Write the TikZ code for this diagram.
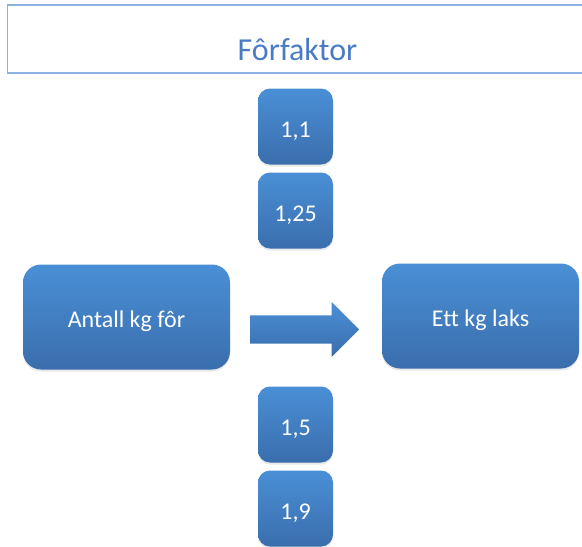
\documentclass[tikz,border=0pt]{standalone}
\usepackage{fontspec}
\setmainfont{Carlito}[Ligatures=NoCommon]
\usetikzlibrary{shapes.arrows,shadows}
\definecolor{boxtop}{HTML}{4A8FD6}
\definecolor{boxbot}{HTML}{3A6EAD}
\definecolor{titleblue}{HTML}{4A7CC4}
\definecolor{frameblue}{HTML}{8DB2E2}
\begin{document}
\begin{tikzpicture}[x=1pt,y=-1pt,
    blok/.style={draw=none, rounded corners=#1, top color=boxtop, bottom color=boxbot,
        text=white, font=\fontsize{24}{28}\selectfont, inner sep=0pt,
        text height=21pt, text depth=0pt,
        drop shadow={opacity=0.18, shadow xshift=0pt, shadow yshift=-2pt}},
    faktor/.style={blok=12pt, minimum width=75pt, minimum height=76pt},
    stor/.style={blok=18pt, minimum height=105pt}]
    \useasboundingbox (0,0) rectangle (582,547);
    % overskrift, rammen er aapen mot hoyre
    \draw [frameblue, line width=1.2pt] (582,5) -- (7.5,5) -- (7.5,73) -- (582,73);
    \node (tittel) [anchor=base, text=titleblue, font=\fontsize{32}{38}\selectfont] at (297.5,60) {Fôrfaktor};
    % faktorene
    \node (f1) [faktor] at (295.5,126.5) {1,1};
    \node (f2) [faktor] at (295.5,210.5) {1,25};
    \node (f3) [faktor] at (295.5,424.5) {1,5};
    \node (f4) [faktor] at (295.5,508.5) {1,9};
    % for -> laks
    \node (for) [stor, minimum width=207pt] at (126.5,317) {Antall kg fôr};
    \node (laks) [stor, minimum width=197pt] at (480.5,316) {Ett kg laks};
    \node (pil) [single arrow, draw=none, top color=boxtop, bottom color=boxbot,
        minimum height=109pt, single arrow head extend=13.5pt,
        inner xsep=0pt, inner ysep=14pt, anchor=tail] at (250,329.5) {};
\end{tikzpicture}
\end{document}
